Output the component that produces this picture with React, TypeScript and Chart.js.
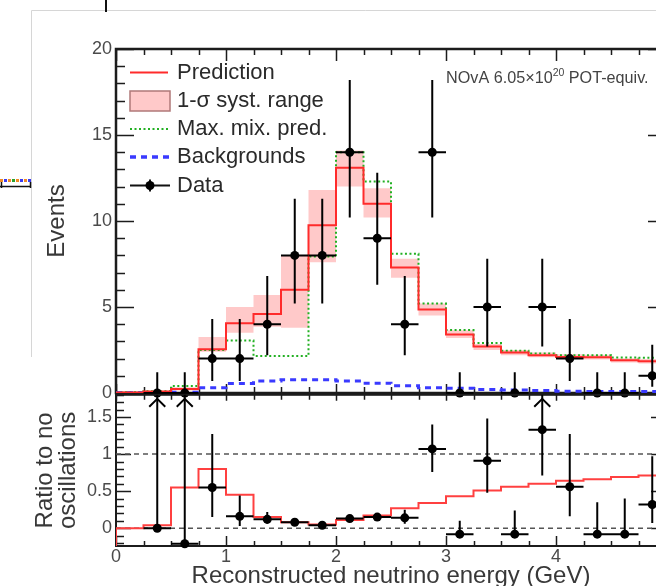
import React, { useEffect, useRef } from 'react';
import { Chart, registerables } from 'chart.js';

Chart.register(...registerables);

const FONT = '"Liberation Sans", Arial, Helvetica, sans-serif';

// ---------- data ----------
const binEdges = [0, 0.25, 0.5, 0.75, 1, 1.25, 1.5, 1.75, 2, 2.25, 2.5, 2.75, 3, 3.25, 3.5, 3.75, 4, 4.25, 4.5, 4.75, 5];
const binCenters = [0.125, 0.375, 0.625, 0.875, 1.125, 1.375, 1.625, 1.875, 2.125, 2.375, 2.625, 2.875, 3.125, 3.375, 3.625, 3.875, 4.125, 4.375, 4.625, 4.875];
const binHalfWidth = 0.125;

const prediction = [0.03, 0.08, 0.23, 2.55, 4.05, 4.6, 6.0, 9.75, 13.1, 11.0, 7.3, 4.85, 3.4, 2.7, 2.35, 2.2, 2.1, 2.08, 1.9, 1.85];
const systLow = [0.0, 0.04, 0.14, 2.4, 3.5, 3.85, 3.8, 7.6, 12.0, 10.2, 6.7, 4.5, 3.2, 2.5, 2.2, 2.08, 1.98, 1.95, 1.78, 1.72];
const systHigh = [0.08, 0.14, 0.34, 3.25, 5.0, 5.7, 8.0, 11.8, 14.1, 11.9, 7.8, 5.2, 3.65, 2.85, 2.5, 2.35, 2.25, 2.22, 2.02, 1.98];
const maxMixPred = [0.04, 0.1, 0.4, 2.5, 3.05, 2.15, 2.15, 7.93, 14.0, 12.3, 8.1, 5.2, 3.66, 2.9, 2.45, 2.3, 2.2, 2.2, 2.07, 2.05];
const backgrounds = [0.02, 0.02, 0.05, 0.3, 0.55, 0.7, 0.77, 0.77, 0.7, 0.57, 0.42, 0.3, 0.28, 0.2, 0.17, 0.14, 0.1, 0.09, 0.08, 0.08];

const dataCounts = [null, 0, 0, 2, 2, 4, 8, 8, 14, 9, 4, 14, 0, 5, 0, 5, 2, 0, 0, 1];
const dataErrLow = [null, 0, 0, 0.7, 0.7, 2.2, 5.2, 5.2, 10.2, 6.3, 2.2, 10.2, 0, 2.7, 0, 2.7, 0.7, 0, 0, 0.37];
const dataErrHigh = [null, 1.2, 1.2, 4.3, 4.3, 6.8, 11.3, 11.3, 18.2, 12.8, 6.8, 18.2, 1.2, 7.8, 1.2, 7.8, 4.3, 1.2, 1.2, 2.8];

const ratioPred = [0.0, 0.04, 0.55, 0.8, 0.45, 0.15, 0.08, 0.05, 0.11, 0.17, 0.27, 0.34, 0.43, 0.51, 0.56, 0.6, 0.64, 0.66, 0.69, 0.71];
const ratioData = [null, 0, -0.21, 0.55, 0.16, 0.12, 0.08, 0.04, 0.13, 0.15, 0.14, 1.07, -0.08, 0.91, -0.08, 1.33, 0.56, -0.08, -0.08, 0.32];
const ratioErrLow = [null, 0, -0.21, 0.15, 0.03, 0.06, 0.05, 0.03, 0.1, 0.1, 0.06, 0.76, -0.08, 0.48, -0.08, 0.71, 0.16, -0.08, -0.08, 0.07];
const ratioErrHigh = [null, 2.5, 2.5, 1.27, 0.44, 0.22, 0.12, 0.06, 0.16, 0.2, 0.25, 1.4, 0.1, 1.48, 0.24, 2.5, 1.27, 0.35, 0.4, 0.97];
const ratioRefLines = [0, 1];

const eventsTicks = [0, 5, 10, 15, 20];
const ratioTicks = [0, 0.5, 1, 1.5];
const energyTicks = [0, 1, 2, 3, 4, 5];

const legendLabels = ['Prediction', '1-\u03c3 syst. range', 'Max. mix. pred.', 'Backgrounds', 'Data'];

const X_MIN = 0, X_MAX = 5;
const EV_MIN = 0, EV_MAX = 20;
const R_MIN = -0.24, R_MAX = 1.8;

// ---------- styles ----------
const RED = '#ff2b2b';
const RED_RATIO = '#ff4040';
const BAND = 'rgba(255,120,120,0.40)';
const BAND_EDGE = '#b07878';
const GREEN = '#22b022';
const BLUE = '#3a3aff';
const LABEL = '#4a4a4a';
const TITLE = '#383838';
const FRAME = '#1c1c1c';

function hist(values: number[]) {
  const pts = values.map((v, i) => ({ x: binEdges[i], y: v }));
  pts.push({ x: binEdges[binEdges.length - 1], y: values[values.length - 1] });
  return pts;
}

function points(vals: (number | null)[], lo: (number | null)[], hi: (number | null)[]) {
  const out: any[] = [];
  vals.forEach((v, i) => {
    if (v === null) return;
    out.push({ x: binCenters[i], y: v, lo: lo[i], hi: hi[i] });
  });
  return out;
}

// ---------- plugins ----------
const errorBarPlugin = {
  id: 'errBars',
  beforeDatasetDraw(chart: any, args: any) {
    const ds = chart.data.datasets[args.index];
    if (!ds.errorBars) return;
    const { ctx, chartArea: a } = chart;
    const xs = chart.scales.x, ys = chart.scales.y;
    ctx.save();
    ctx.beginPath();
    ctx.rect(a.left - 2, a.top - 2, a.right - a.left + 4, a.bottom - a.top + 4);
    ctx.clip();
    ctx.strokeStyle = '#000';
    ctx.lineWidth = 2;
    ds.data.forEach((p: any) => {
      const px = xs.getPixelForValue(p.x);
      const py = ys.getPixelForValue(p.y);
      ctx.beginPath();
      ctx.moveTo(xs.getPixelForValue(p.x - binHalfWidth), py);
      ctx.lineTo(xs.getPixelForValue(p.x + binHalfWidth), py);
      const over = p.hi > ys.max;
      const yTop = over ? a.top : ys.getPixelForValue(p.hi);
      ctx.moveTo(px, ys.getPixelForValue(p.lo));
      ctx.lineTo(px, yTop);
      ctx.stroke();
      if (over) {
        ctx.beginPath();
        ctx.moveTo(px - 8, a.top + 12);
        ctx.lineTo(px, a.top + 4);
        ctx.lineTo(px + 8, a.top + 12);
        ctx.stroke();
      }
    });
    ctx.restore();
  },
};

function isMultiple(v: number, step: number) {
  return Math.abs(v / step - Math.round(v / step)) < 1e-6;
}

const framePlugin = {
  id: 'rootFrame',
  beforeDatasetsDraw(chart: any, _args: any, o: any) {
    const { ctx, chartArea: a } = chart;
    const xs = chart.scales.x, ys = chart.scales.y;
    ctx.save();
    ctx.strokeStyle = FRAME;
    ctx.lineWidth = 1.5;
    ctx.beginPath();
    const y0 = Math.ceil(ys.min / o.yMinor - 1e-9) * o.yMinor;
    for (let v = y0; v <= ys.max + 1e-9; v += o.yMinor) {
      const py = Math.round(ys.getPixelForValue(v)) + 0.5;
      const len = isMultiple(v, o.yMajor) ? o.yMajorLen : o.yMinorLen;
      ctx.moveTo(a.left, py); ctx.lineTo(a.left + len, py);
      ctx.moveTo(a.right, py); ctx.lineTo(a.right - len, py);
    }
    for (let v = xs.min; v <= xs.max + 1e-9; v += o.xMinor) {
      const px = Math.round(xs.getPixelForValue(v)) + 0.5;
      const major = isMultiple(v, o.xMajor);
      const lt = major ? o.xTopMajorLen : o.xTopMinorLen;
      const lb = major ? o.xBotMajorLen : o.xBotMinorLen;
      ctx.moveTo(px, a.top); ctx.lineTo(px, a.top + lt);
      ctx.moveTo(px, a.bottom); ctx.lineTo(px, a.bottom - lb);
    }
    ctx.stroke();
    ctx.lineWidth = o.frameWidth || 2;
    ctx.strokeRect(a.left, a.top, a.right - a.left, a.bottom - a.top);
    ctx.restore();
  },
};

const legendPlugin = {
  id: 'rootLegend',
  afterDatasetsDraw(chart: any) {
    const { ctx } = chart;
    const x0 = 130, x1 = 170, tx = 177;
    const rows = [72.5, 101, 129, 157, 185.5];
    ctx.save();
    ctx.font = `22px ${FONT}`;
    ctx.fillStyle = '#2a2a2a';
    ctx.textBaseline = 'middle';
    ctx.textAlign = 'left';
    legendLabels.forEach((t, i) => ctx.fillText(t, tx, rows[i]));
    ctx.strokeStyle = RED; ctx.lineWidth = 2;
    ctx.beginPath(); ctx.moveTo(x0, rows[0]); ctx.lineTo(x1 - 2, rows[0]); ctx.stroke();
    ctx.fillStyle = BAND;
    ctx.fillRect(x0, rows[1] - 10, x1 - x0, 20);
    ctx.strokeStyle = BAND_EDGE; ctx.lineWidth = 1.5;
    ctx.strokeRect(x0, rows[1] - 10, x1 - x0, 20);
    ctx.strokeStyle = GREEN; ctx.lineWidth = 2; ctx.setLineDash([2, 2.5]);
    ctx.beginPath(); ctx.moveTo(x0, rows[2]); ctx.lineTo(x1, rows[2]); ctx.stroke();
    ctx.strokeStyle = BLUE; ctx.lineWidth = 3.5; ctx.setLineDash([6, 5]);
    ctx.beginPath(); ctx.moveTo(x0, rows[3]); ctx.lineTo(x1, rows[3]); ctx.stroke();
    ctx.setLineDash([]);
    ctx.strokeStyle = '#111'; ctx.lineWidth = 2;
    ctx.beginPath(); ctx.moveTo(x0, rows[4]); ctx.lineTo(x1, rows[4]);
    ctx.moveTo(150, rows[4] - 6); ctx.lineTo(150, rows[4] + 6); ctx.stroke();
    ctx.fillStyle = '#000';
    ctx.beginPath(); ctx.arc(150, rows[4], 4.5, 0, Math.PI * 2); ctx.fill();

    ctx.fillStyle = '#444';
    ctx.textBaseline = 'alphabetic';
    let x = 446;
    const base = 83;
    ctx.font = `16.2px ${FONT}`;
    const a = 'NOvA 6.05\u00d710';
    ctx.fillText(a, x, base); x += ctx.measureText(a).width;
    ctx.font = `10.5px ${FONT}`;
    ctx.fillText('20', x, base - 7.5); x += ctx.measureText('20').width;
    ctx.font = `16.2px ${FONT}`;
    ctx.fillText(' POT-equiv.', x, base);
    ctx.restore();
  },
};

const decorPlugin = {
  id: 'pageDecor',
  afterDraw(chart: any) {
    const { ctx } = chart;
    ctx.save();
    ctx.strokeStyle = '#d6d6d6'; ctx.lineWidth = 1;
    ctx.beginPath(); ctx.moveTo(31.5, 357); ctx.lineTo(31.5, 10.5); ctx.lineTo(700, 10.5); ctx.stroke();
    ctx.fillStyle = '#111';
    ctx.fillRect(105, 0, 2, 12);
    const cols = ['#f08a24', '#3b3bf0', '#f08a24', '#2aa02a', '#f08a24', '#3b3bf0', '#f08a24', '#3b3bf0'];
    cols.forEach((c, i) => { ctx.fillStyle = c; ctx.fillRect(i * 4, 179, 3, 3); });
    ctx.strokeStyle = '#111'; ctx.lineWidth = 1.5;
    ctx.beginPath(); ctx.moveTo(0, 186.5); ctx.lineTo(31, 186.5);
    ctx.moveTo(1.5, 182); ctx.lineTo(1.5, 188); ctx.moveTo(30.5, 182); ctx.lineTo(30.5, 188); ctx.stroke();
    ctx.restore();
  },
};

const hiddenGrid = { display: false, drawTicks: false };
const plainLabel = (v: any) => String(v);

function topConfig(): any {
  return {
    type: 'line',
    data: {
      datasets: [
        { label: 'syst low', data: hist(systLow), stepped: true, borderWidth: 0, borderColor: 'rgba(0,0,0,0)', pointRadius: 0, fill: false, order: 5 },
        { label: legendLabels[1], data: hist(systHigh), stepped: true, borderWidth: 0, borderColor: 'rgba(0,0,0,0)', pointRadius: 0, fill: '-1', backgroundColor: BAND, order: 4 },
        { label: legendLabels[2], data: hist(maxMixPred), stepped: true, borderColor: GREEN, borderWidth: 2, borderDash: [2, 2.5], pointRadius: 0, fill: false, order: 3 },
        { label: legendLabels[3], data: hist(backgrounds), stepped: true, borderColor: BLUE, borderWidth: 3, borderDash: [6, 5], pointRadius: 0, fill: false, order: 2 },
        { label: legendLabels[0], data: hist(prediction), stepped: true, borderColor: RED, borderWidth: 2, pointRadius: 0, fill: false, order: 1 },
        { type: 'scatter', label: legendLabels[4], data: points(dataCounts, dataErrLow, dataErrHigh), showLine: false, pointRadius: 4.5, pointBackgroundColor: '#000', pointBorderWidth: 0, clip: false, errorBars: true, order: 0 },
      ],
    },
    options: {
      responsive: false,
      animation: false,
      events: [],
      layout: { padding: { left: 0, top: 49, right: 34, bottom: 0 } },
      plugins: {
        legend: { display: false },
        tooltip: { enabled: false },
        rootFrame: { frameWidth: 2.5, yMinor: 1, yMajor: 5, yMajorLen: 18, yMinorLen: 9, xMinor: 0.25, xMajor: 1, xTopMajorLen: 12, xTopMinorLen: 6, xBotMajorLen: 9, xBotMinorLen: 6 },
      },
      scales: {
        x: {
          type: 'linear', min: X_MIN, max: X_MAX,
          ticks: { display: false }, grid: hiddenGrid, border: { display: false },
          afterFit(s: any) { s.height = 27; },
        },
        y: {
          type: 'linear', min: EV_MIN, max: EV_MAX,
          afterBuildTicks(s: any) { s.ticks = eventsTicks.map((v) => ({ value: v })); },
          ticks: { color: LABEL, font: { family: FONT, size: 18 }, padding: 4, callback: plainLabel },
          grid: hiddenGrid, border: { display: false },
          title: { display: true, text: 'Events', color: TITLE, font: { family: FONT, size: 24, lineHeight: 1 }, padding: { top: 45, bottom: 0 } },
          afterFit(s: any) { s.width = 116; },
        },
      },
    },
    plugins: [framePlugin, errorBarPlugin, legendPlugin, decorPlugin],
  };
}

function bottomConfig(): any {
  return {
    type: 'line',
    data: {
      datasets: [
        ...ratioRefLines.map((v, i) => ({
          label: 'ref' + i, data: [{ x: X_MIN, y: v }, { x: X_MAX, y: v }],
          borderColor: '#555', borderWidth: 1.5, borderDash: [5, 4], pointRadius: 0, fill: false, order: 3,
        })),
        { label: 'ratio pred', data: [{ x: X_MIN, y: R_MIN }, ...hist(ratioPred)], stepped: true, borderColor: RED_RATIO, borderWidth: 2, pointRadius: 0, fill: false, order: 1 },
        { type: 'scatter', label: 'ratio data', data: points(ratioData, ratioErrLow, ratioErrHigh), showLine: false, pointRadius: 4.5, pointBackgroundColor: '#000', pointBorderWidth: 0, clip: false, errorBars: true, order: 0 },
      ],
    },
    options: {
      responsive: false,
      animation: false,
      events: [],
      layout: { padding: { left: 0, top: 13, right: 34, bottom: 0 } },
      plugins: {
        legend: { display: false },
        tooltip: { enabled: false },
        rootFrame: { frameWidth: 2, yMinor: 0.1, yMajor: 0.5, yMajorLen: 15, yMinorLen: 8, xMinor: 0.25, xMajor: 1, xTopMajorLen: 6, xTopMinorLen: 5, xBotMajorLen: 10, xBotMinorLen: 5 },
      },
      scales: {
        x: {
          type: 'linear', min: X_MIN, max: X_MAX,
          afterBuildTicks(s: any) { s.ticks = energyTicks.map((v) => ({ value: v })); },
          ticks: { color: LABEL, font: { family: FONT, size: 18 }, padding: 0, maxRotation: 0, autoSkip: false, callback: plainLabel },
          grid: hiddenGrid, border: { display: false },
          title: { display: true, text: 'Reconstructed neutrino energy (GeV)', color: TITLE, font: { family: FONT, size: 24, lineHeight: 1 }, padding: { top: 0, bottom: 12 } },
          afterFit(s: any) { s.height = 54; },
        },
        y: {
          type: 'linear', min: R_MIN, max: R_MAX,
          afterBuildTicks(s: any) { s.ticks = ratioTicks.map((v) => ({ value: v })); },
          ticks: { color: LABEL, font: { family: FONT, size: 18 }, padding: 4, callback: plainLabel },
          grid: hiddenGrid, border: { display: false },
          title: { display: true, text: ['Ratio to no', 'oscillations'], color: TITLE, font: { family: FONT, size: 24, lineHeight: 0.96 }, padding: { top: 33.5, bottom: 0 } },
          afterFit(s: any) { s.width = 116; },
        },
      },
    },
    plugins: [framePlugin, errorBarPlugin],
  };
}

export default function App() {
  const topRef = useRef<HTMLCanvasElement>(null);
  const botRef = useRef<HTMLCanvasElement>(null);
  useEffect(() => {
    const top = new Chart(topRef.current as HTMLCanvasElement, topConfig());
    const bot = new Chart(botRef.current as HTMLCanvasElement, bottomConfig());
    return () => { top.destroy(); bot.destroy(); };
  }, []);
  return (
    <div style={{ position: 'fixed', left: 0, top: 0, width: 656, height: 586, overflow: 'hidden', background: '#fff' }}>
      <canvas ref={topRef} width={700} height={420} style={{ position: 'absolute', left: 0, top: 0, width: 700, height: 420 }} />
      <canvas ref={botRef} width={700} height={220} style={{ position: 'absolute', left: 0, top: 380, width: 700, height: 220 }} />
    </div>
  );
}
